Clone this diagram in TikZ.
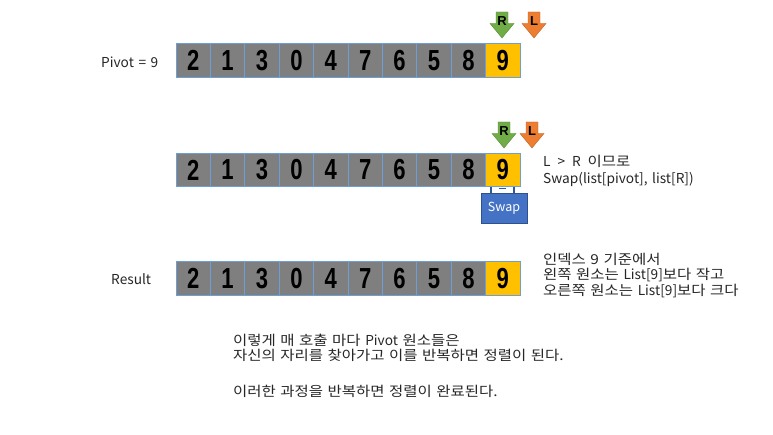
\documentclass[tikz,border=0pt]{standalone}
\usepackage{fontspec}
\setmainfont[WordSpace=1.5]{Noto Sans CJK KR}
\newfontfamily\kr[FakeStretch=1.13,WordSpace=1.3]{Noto Sans CJK KR}
\newfontfamily\digitfont[FakeStretch=0.76]{Liberation Sans}
\newfontfamily\letterfont{Liberation Sans}
\usetikzlibrary{calc}
\definecolor{cellgray}{HTML}{7F7F7F}
\definecolor{cellborder}{HTML}{6C9FD8}
\definecolor{pivotyellow}{HTML}{FFC000}
\definecolor{arrowgreen}{HTML}{70AD47}
\definecolor{arroworange}{HTML}{ED7D31}
\definecolor{swapblue}{HTML}{4472C4}
\definecolor{swapborder}{HTML}{2F528F}
\definecolor{txt}{HTML}{262626}
\tikzset{
  cell/.style={draw=cellborder, line width=0.8pt, fill=cellgray, minimum width=34.4pt, minimum height=33.5pt, inner sep=0pt, font=\digitfont\bfseries\fontsize{29}{29}\selectfont, text=black},
  pivotcell/.style={cell, fill=pivotyellow},
  label/.style={anchor=west, inner sep=0pt, text=txt, font=\fontsize{13.7}{13.7}\selectfont},
  multilabel/.style={label, align=left},
  swapbox/.style={draw=swapborder, line width=0.8pt, fill=swapblue, minimum width=46pt, minimum height=30pt, inner sep=0pt, text=white, font=\fontsize{12.5}{12.5}\selectfont},
  swapline/.style={draw=swapborder!80!swapblue, line width=1.4pt},
  pics/blockarrow/.style 2 args={code={
    \path[fill=#1, draw=#1!80!black, line width=0.4pt]
      (-6,0) -- (6,0) -- (6,11.5) -- (12,11.5) -- (0,26) -- (-12,11.5) -- (-6,11.5) -- cycle;
    \node[inner sep=0pt, font=\letterfont\bfseries\fontsize{13}{13}\selectfont] (-lab) at (0,9.5) {#2};
  }}
}
\begin{document}
\begin{tikzpicture}[x=1pt, y=-1pt]
\useasboundingbox (0,0) rectangle (773,435);
% rows
\foreach \row/\yc in {1/60.5, 2/170, 3/278.5}{
  \foreach \v [count=\i] in {2,1,3,0,4,7,6,5,8}{
    \node[cell] (r\row c\i) at ({176+34.4*(\i-0.5)}, \yc) {\v};
  }
  \node[pivotcell] (r\row c10) at ({176+34.4*9.5}, \yc) {9};
}
% labels
\node[label] (pivotlabel) at (101,62) {Pivot = 9};
\node[label] (resultlabel) at (111,279) {Result};
% arrows row 1
\pic (ar1) at (502,12) {blockarrow={arrowgreen}{R}};
\pic (al1) at (534,12) {blockarrow={arroworange}{L}};
% arrows row 2
\pic (ar2) at (504,122) {blockarrow={arrowgreen}{R}};
\pic (al2) at (532,122) {blockarrow={arroworange}{L}};
% swap
\node[swapbox] (swap) at (504,208.5) {Swap};
\draw[swapline] ([xshift=-12pt]r2c10.south) -- ([xshift=-12pt]r2c10.south |- swap.north);
\draw[swapline] ([xshift=11pt]r2c10.south) -- ([xshift=11pt]r2c10.south |- swap.north);
\draw[swapline] ([xshift=-4pt,yshift=-1.2pt]r2c10.south) -- ([xshift=3.5pt,yshift=-1.2pt]r2c10.south);
% texts
\node[multilabel, font=\fontsize{13.7}{17}\selectfont] (swaptext) at (543,170.5) {L \,>\, R\, {\kr 이므로}\\Swap(list[pivot], list[R])};
\node[multilabel, font=\fontsize{13.7}{15.5}\selectfont] (resulttext) at (543,275.5) {{\kr 인덱스 9 기준에서}\\{\kr 왼쪽 원소는} List[9]{\kr 보다 작고}\\{\kr 오른쪽 원소는} List[9]{\kr 보다 크다}};
\node[multilabel, font=\fontsize{13.7}{14.5}\selectfont] (note1) at (233,348) {{\kr 이렇게 매 호출 마다} Pivot {\kr 원소들은}\\{\kr 자신의 자리를 찾아가고 이를 반복하면 정렬이 된다.}};
\node[label, font=\fontsize{13.7}{14.5}\selectfont] (note2) at (233,391.5) {\kr 이러한 과정을 반복하면 정렬이 완료된다.};
\end{tikzpicture}
\end{document}
